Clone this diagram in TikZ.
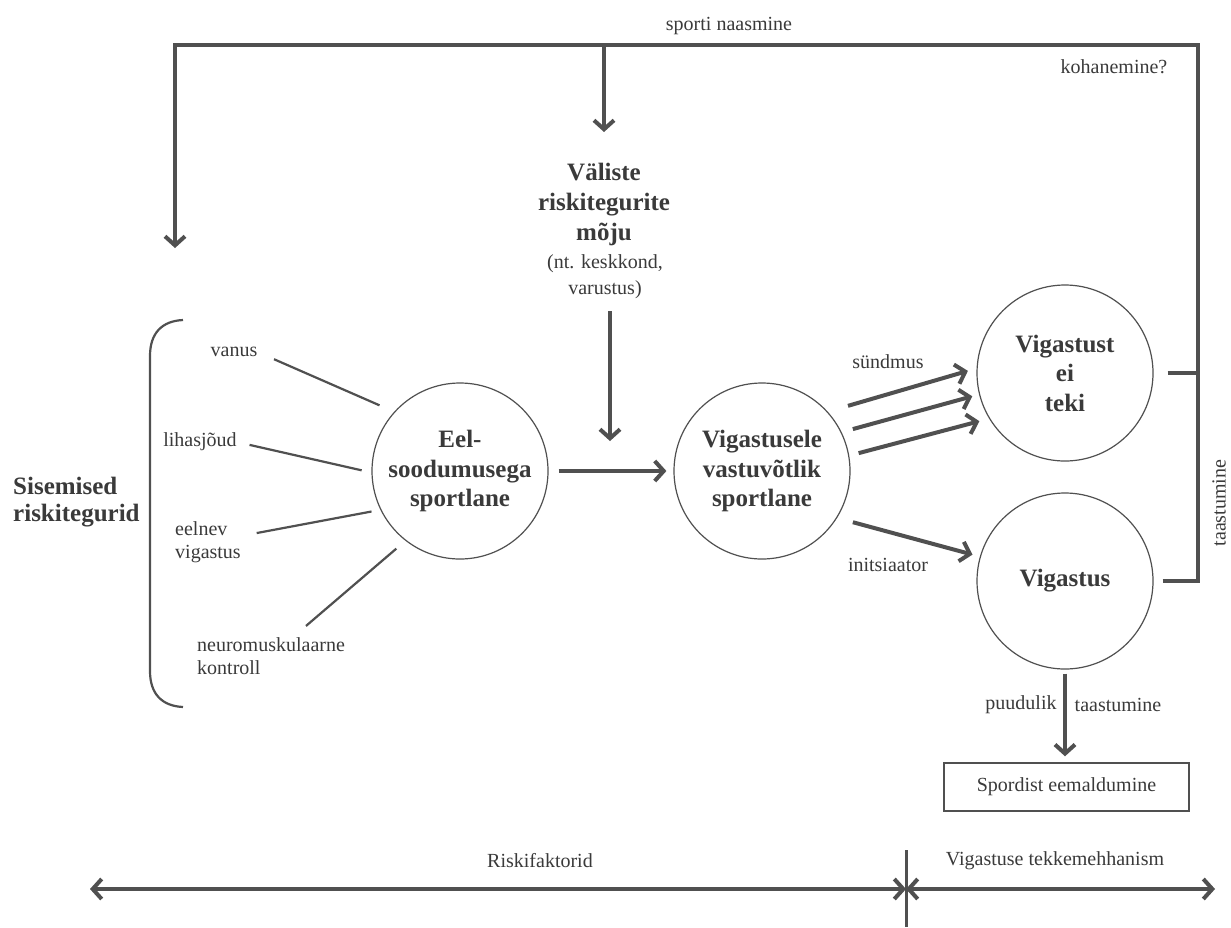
\documentclass[tikz,border=0pt]{standalone}
\usepackage{fontspec}
\setmainfont{Liberation Serif}
\usetikzlibrary{arrows.meta}
\definecolor{ln}{HTML}{505050}
\definecolor{tx}{HTML}{3A3A3A}
\begin{document}
\begin{tikzpicture}[x=1pt,y=-1pt,
  lw/.style={line width=4pt, draw=ln, line join=miter},
  arr/.style={-{Straight Barb[length=9pt,width=20pt]}},
  darr/.style={{Straight Barb[length=9pt,width=20pt]}-{Straight Barb[length=9pt,width=20pt]}},
  circ/.style={circle, draw=ln, line width=1.2pt, minimum size=176pt, inner sep=0pt, align=center,
    font=\fontsize{25}{29.5}\selectfont\bfseries, text=tx},
  lab/.style={inner sep=0pt, text=tx, font=\fontsize{20}{23.5}\selectfont},
  bold/.style={inner sep=0pt, text=tx, font=\fontsize{25}{30}\selectfont\bfseries},
  thinln/.style={line width=2.2pt, draw=ln},
]
\useasboundingbox[fill=white] (0,0) rectangle (1231,927);

% circles
\node[circ] (c1) at (460,471) {Eel-\\soodumusega\\sportlane};
\node[circ] (c2) at (762,471) {Vigastusele\\vastuvõtlik\\sportlane};
\node[circ] (c3) at (1065,373) {Vigastust\\ei\\teki};
\node[circ] (c4) at (1065,581) {Vigastus};

% left side
\node[bold, anchor=west, align=left, font=\fontsize{25}{26.5}\selectfont\bfseries] (sis) at (13,502) {Sisemised\\riskitegurid};
\node[lab] (vanus) at (234,352) {vanus};
\node[lab] (lihas) at (200,442) {lihasjõud};
\node[lab, anchor=west, align=left] (eelnev) at (175,542) {eelnev\\vigastus};
\node[lab, anchor=west, align=left] (neuro) at (197,656) {neuromuskulaarne\\kontroll};
\draw[thinln] (183,320) .. controls (162,321) and (150,333) .. (150,356) -- (150,671)
  .. controls (150,694) and (162,706) .. (183,707);

\draw[thinln, shorten <=18pt, shorten >=16pt] (vanus.east) -- (c1.138);
\draw[thinln, shorten <=13pt, shorten >=10pt] (lihas.east) -- (c1.181);
\draw[thinln, shorten <=16pt, shorten >=9pt] ([yshift=6pt]eelnev.east) -- (c1.206);
\draw[thinln, shorten <=17pt, shorten >=12pt] ([xshift=22pt]neuro.north) -- (c1.232);

% external risk factors
\node[bold, align=center, anchor=north] (val) at (604,163) {Väliste\\riskitegurite\\mõju};
\node[lab, align=center, font=\fontsize{20}{26}\selectfont] (val2) at (605,277) {(nt. keskkond,\\varustus)};
\coordinate (vtip) at (610,441);

% frame
\coordinate (tl) at (175,45);
\coordinate (tr) at (1198,45);
\coordinate (tm) at (604,45);
\coordinate (sistip) at (175,248);
\draw[lw, arr, shorten <=9pt] (c4.east) -- (c4.east -| tr) -- (tr) -- (tl) -- (sistip);
\draw[lw, shorten <=14pt] (c3.east) -- (c3.east -| tr);
\draw[lw, arr, shorten >=31pt] (tm) -- (val.north);
\draw[lw, arr, shorten <=12pt] (val2.south -| vtip) -- (vtip);

\node[lab] (naas) at (729,26) {sporti naasmine};
\node[lab] (koh) at (1114,67) {kohanemine?};
\node[lab, rotate=90] (taas) at (1219,503) {taastumine};

% main arrows
\draw[lw, arr, shorten <=10pt, shorten >=7pt] (c1) -- (c2);
\draw[lw, arr, shorten <=21pt, shorten >=9pt] (c2.42.7) -- (c3.177.8);
\draw[lw, arr, shorten <=11.6pt, shorten >=7pt] (c2.26.5) -- (c3.194.7);
\draw[lw, arr, shorten <=9.7pt, shorten >=10pt] (c2.10.3) -- (c3.211.2);
\draw[lw, arr, shorten <=16.3pt, shorten >=7.6pt] (c2.328.9) -- (c4.164.2);
\node[lab] (sund) at (888,362) {sündmus};
\node[lab] (init) at (888,565) {initsiaator};

% exit
\node[lab, draw=ln, line width=1.5pt, minimum width=245pt, minimum height=48pt] (box) at (1066.5,787) {Spordist eemaldumine};
\draw[lw, arr, shorten <=4pt, shorten >=6pt] (c4.south) -- (box.north -| c4.south);
\node[lab] (puud) at (1021,705) {puudulik};
\node[lab] (taas2) at (1118,705) {taastumine};

% bottom axis
\coordinate (bl) at (90,889);
\coordinate (bm) at (906,889);
\coordinate (br) at (1215,889);
\coordinate (dtop) at (906,850);
\coordinate (dbot) at (906,927);
\draw[line width=3pt, draw=ln] (dtop) -- (dbot);
\draw[lw, darr] (bl) -- (bm);
\draw[lw, darr] (bm) -- (br);
\node[lab] (risk) at (540,861) {Riskifaktorid};
\node[lab] (mech) at (1055,861) {Vigastuse tekkemehhanism};
\end{tikzpicture}
\end{document}
